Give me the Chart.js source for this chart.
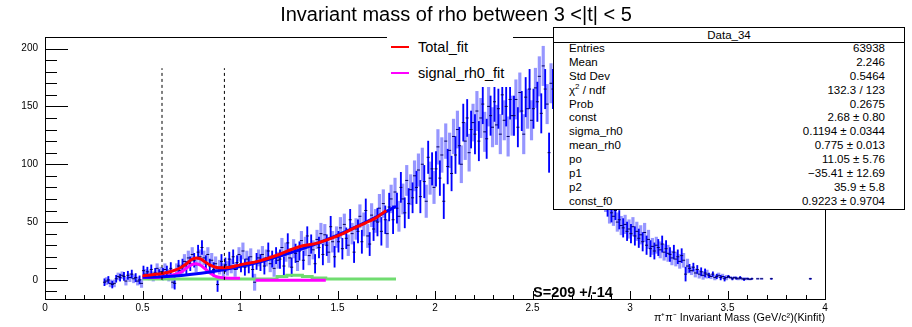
<!DOCTYPE html>
<html>
<head>
<meta charset="utf-8">
<script src="https://cdn.jsdelivr.net/npm/chart.js@4.4.0/dist/chart.umd.min.js"></script>
<style>
body { margin:0; background:#fff; font-family:"Liberation Sans", Arial, sans-serif; }
#wrap { position:relative; width:912px; height:327px; overflow:hidden; }
#c { position:absolute; left:0; top:0; }
.stats { position:absolute; left:553px; top:27px; width:350px; height:181px; border:1px solid #000; background:#fff; font-size:11.5px; color:#000; }
.stats .head { height:14px; line-height:14px; text-align:center; border-bottom:1px solid #000; }
.stats .rows { position:absolute; left:0; right:0; top:14px; }
.stats .row { height:13.9px; line-height:13.9px; position:relative; }
.stats .row .k { position:absolute; left:15px; }
.stats .row .v { position:absolute; right:19px; }
.stats sup { font-size:8px; line-height:0; }
.leg { position:absolute; left:387px; top:31px; width:126px; height:56px; background:#fff; font-size:14.5px; }
.leg .it { position:absolute; left:0; height:18px; line-height:18px; }
.leg .sw { position:absolute; left:4px; top:8px; width:18px; height:2px; }
.leg .tx { position:absolute; left:31px; white-space:nowrap; }
.sig { position:absolute; left:533px; top:284px; font-size:14.5px; font-weight:bold; }
</style>
</head>
<body>
<div id="wrap">
  <canvas id="c" width="912" height="327"></canvas>
  <div class="leg">
    <div class="it" style="top:7px"><div class="sw" style="background:#ff0000"></div><span class="tx">Total_fit</span></div>
    <div class="it" style="top:33px"><div class="sw" style="background:#ff00ff"></div><span class="tx">signal_rh0_fit</span></div>
  </div>
  <div class="stats">
    <div class="head">Data_34</div>
    <div class="rows" id="statRows"></div>
  </div>
  <div class="sig">S=209 +/-14</div>
</div>
<script>
// histogram: 0.01 GeV bins starting at 0.30
const binLow = 0.30;
const binWidth = 0.01;
const counts = [
  -2, -1, 0, -3, -4, -3, 1, 3, 2, 4,            // 0.30
  3, -1, 4, 2, 5, 1, 2, -1, 0, -3,              // 0.40
  8, 5, 7, 4, 9, 3, 6, 10, 5, 7,                // 0.50
  5, 9, 7, 4, 10, -2, -3, 9, 12, 8,             // 0.60
  12, 16, 10, 19, 14, 22, 17, 13, 24, 20,       // 0.70
  28, 19, 15, 22, 12, 17, 9, 14, -4, 11,        // 0.80
  16, 8, 13, 10, 18, 12, 20, 9, 15, 22,         // 0.90
  14, 25, 11, 18, 13, 20, 9, -2, 16, 19,        // 1.00
  15, 22, 12, 19, 25, 14, 18, 10, 21, 17,       // 1.10
  18, 28, 12, 24, 32, 19, 11, 27, 23, 16,       // 1.20
  25, 34, 17, 29, 38, 21, 31, 26, 14, 35,       // 1.30
  28, 40, 22, 39, 30, 24, 46, 33, 20, 37,       // 1.40
  33, 45, 27, 48, 36, 30, 52, 40, 24, 44,       // 1.50
  42, 55, 33, 48, 60, 38, 31, 56, 44, 51,       // 1.60
  50, 62, 42, 66, 52, 40, 63, 70, 52, 76,       // 1.70
  62, 55, 80, 70, 58, 86, 66, 78, 71, 90,       // 1.80
  80, 95, 72, 100, 85, 68, 106, 88, 96, 80,     // 1.90
  96, 115, 88, 108, 68, 120, 98, 112, 92, 124,  // 2.00
  108, 130, 116, 100, 136, 120, 140, 110, 130, 136, // 2.10
  126, 146, 120, 140, 152, 128, 122, 150, 142, 132, // 2.20
  154, 134, 148, 126, 160, 138, 150, 124, 156, 142, // 2.30
  142, 156, 132, 162, 146, 126, 158, 148, 165, 138, // 2.40
  148, 166, 154, 176, 144, 185, 165, 152, 110, 170, // 2.50
  165, 160, 170, 158, 168, 162, 155, 166, 160, 152, // 2.60
  158, 150, 145, 152, 140, 135, 142, 128, 132, 120, // 2.70
  118, 110, 105, 98, 92, 85, 80, 74, 70, 64,   // 2.80
  58, 55, 60, 50, 52, 47, 45, 48, 42, 44,       // 2.90
  40, 46, 38, 42, 36, 39, 33, 41, 30, 35,       // 3.00
  27, 29, 25, 30, 28, 26, 31, 24, 27, 23,       // 3.10
  22, 19, 24, 18, 20, 16, 21, 17, 5, 12,        // 3.20
  10, 8, 11, 6, 9, 5, 7, 4, 6, 5,               // 3.30
  4, 3, 5, 2, 3, 4, 2, 3, 1, 2,                 // 3.40
  3, 2, 1, 2, 1.5, 1, 2, 1, 0.5, 1,             // 3.50
  1, 0.5, 1, null, null, 1, null, 1, null, null, // 3.60
  null, null, 1, null, null, null, null, null, null, null, // 3.70
  null, null, null, null, null, null, null, null, null, null, // 3.80
  null, null, 1                                 // 3.90
];
// error half-size per 0.1 GeV band (0.3 ... 3.9)
const errBand = [3, 3.5, 4, 5, 6, 6, 6, 7, 7, 8, 8, 9, 9, 10, 12, 13, 14, 15, 16, 17, 17, 17, 17, 17, 16, 15, 8, 8, 7, 6, 3.5, 2, 1, 0.6, 0.5, 0.5, 0.5];

// fit curves
const totalFitX = [0.5, 0.55, 0.6, 0.65, 0.7, 0.725, 0.75, 0.775, 0.8, 0.825, 0.85, 0.875, 0.9, 0.95, 1.0, 1.1, 1.2, 1.3, 1.4, 1.5, 1.6, 1.7, 1.75];
const totalFit = [3.5, 4.5, 5.5, 7.5, 11, 14, 17.5, 19, 18, 15, 12.5, 11, 10.5, 11, 13, 16.5, 22, 28.5, 32, 38, 46, 54, 60];
const bgFitX = [0.5, 0.6, 0.7, 0.8, 0.9, 1.0, 1.1, 1.2, 1.3, 1.4, 1.5, 1.6, 1.7, 1.8];
const bgFit = [2.3, 2.7, 3.9, 5.7, 8.3, 11.5, 15.5, 20.3, 25.7, 31.8, 38.7, 46.3, 54.6, 63.6];
const signalX = [0.5, 0.55, 0.6, 0.65, 0.7, 0.725, 0.75, 0.775, 0.8, 0.825, 0.85, 0.875, 0.9, 0.95, 1.0];
const signal = [2, 2, 2.5, 4, 7, 10, 13, 14, 12.5, 9, 5.5, 3, 2, 1.5, 1.5];
const signal2X = [1.08, 1.44];
const signal2 = [-0.2, -0.2];
const f0X = [0.5, 1.19, 1.19, 1.24, 1.24, 1.32, 1.32, 1.37, 1.37, 1.44, 1.44, 1.8];
const f0 = [0.8, 0.8, 2.9, 2.9, 4, 4, 2.9, 2.9, 1.7, 1.7, 0.8, 0.8];
const cutLines = [0.6, 0.92];
const cutTop = 183;

const xTickLabels = [0, 0.5, 1, 1.5, 2, 2.5, 3, 3.5, 4];
const yTickLabels = [0, 50, 100, 150, 200];

const statNames = ['Entries', 'Mean', 'Std Dev', 'χ<sup>2</sup> / ndf', 'Prob', 'const', 'sigma_rh0', 'mean_rh0', 'po', 'p1', 'p2', 'const_f0'];
const statValues = ['63938', '2.246', '0.5464', '132.3 / 123', '0.2675', '2.68 ± 0.80', '0.1194 ± 0.0344', '0.775 ± 0.013', '11.05 ± 5.76', '−35.41 ± 12.69', '35.9 ± 5.8', '0.9223 ± 0.9704'];

let filas = '';
statNames.forEach((n, i) => {
  filas += `<div class="row"><span class="k">${n}</span><span class="v">${statValues[i]}</span></div>`;
});
document.getElementById('statRows').innerHTML = filas;

const zip = (xs, ys) => xs.map((x, i) => ({x: x, y: ys[i]}));

// two overlaid drawings of the histogram: light error boxes and dark error bars
const boxes = [];
const bars = [];
const marks = [];
counts.forEach((v, i) => {
  if (v === null) return;
  const x = binLow + (i + 0.5) * binWidth;
  const e = errBand[Math.floor(i / 10)];
  if (i % 2 === 0) bars.push({x: x, y: [v - e, v + e]});
  else boxes.push({x: x, y: [v - e, v + e]});
  marks.push({x: x, y: v});
});

const FONT = '"Liberation Sans", Arial, sans-serif';

const rootAxes = {
  id: 'rootAxes',
  afterDraw(chart) {
    const {ctx, chartArea: a, scales: {x, y}} = chart;
    ctx.save();
    ctx.strokeStyle = '#000';
    ctx.lineWidth = 1;
    ctx.strokeRect(a.left + 0.5, a.top + 0.5, a.right - a.left, a.bottom - a.top);
    ctx.beginPath();
    for (let k = -1; k <= 21; k++) {
      const py = Math.round(y.getPixelForValue(k * 10)) + 0.5;
      const len = k % 5 === 0 ? 23 : 12;
      ctx.moveTo(a.left, py);
      ctx.lineTo(a.left + len, py);
    }
    for (let k = 0; k <= 40; k++) {
      const px = Math.round(x.getPixelForValue(k / 10)) + 0.5;
      const len = k % 5 === 0 ? 8 : 4;
      ctx.moveTo(px, a.bottom);
      ctx.lineTo(px, a.bottom - len);
    }
    ctx.stroke();
    ctx.restore();
  }
};

const lineDs = (data, color, order) => ({
  type: 'line', data: data, borderColor: color, borderWidth: 3, pointRadius: 0,
  fill: false, cubicInterpolationMode: 'monotone', order: order
});

const datasets = [
  ...cutLines.map(cx => ({
    type: 'line', data: [{x: cx, y: 0}, {x: cx, y: cutTop}], borderColor: '#000',
    borderWidth: 1, borderDash: [3, 3], pointRadius: 0, order: 0
  })),
  lineDs(zip(totalFitX, totalFit), '#ff0000', 1),
  lineDs(zip(bgFitX, bgFit), '#0000ff', 2),
  lineDs(zip(signalX, signal), '#ff00ff', 3),
  lineDs(zip(signal2X, signal2), '#ff00ff', 4),
  {...lineDs(zip(f0X, f0), '#70dc70', 5), cubicInterpolationMode: 'default', tension: 0},
  {type: 'scatter', data: marks, pointStyle: 'line', pointRadius: 1.5, borderColor: '#000060', borderWidth: 1, order: 6},
  {type: 'bar', data: bars, backgroundColor: '#0000ff', barThickness: 1.2, grouped: false, order: 7},
  {type: 'bar', data: boxes, backgroundColor: 'rgba(80,80,255,0.6)', barThickness: 2.5, grouped: false, order: 8}
];

new Chart(document.getElementById('c'), {
  type: 'bar',
  data: {datasets: datasets},
  plugins: [rootAxes],
  options: {
    responsive: false,
    animation: false,
    devicePixelRatio: 1,
    layout: {padding: 0},
    plugins: {
      legend: {display: false},
      tooltip: {enabled: false},
      title: {
        display: true,
        text: 'Invariant mass of rho between 3 <|t| < 5',
        color: '#000',
        font: {family: FONT, size: 20, weight: 'normal'},
        padding: {top: 3, bottom: 10}
      }
    },
    scales: {
      x: {
        type: 'linear', min: 0, max: 4, offset: false,
        grid: {display: false, drawTicks: false}, border: {display: false},
        afterBuildTicks: s => { s.ticks = xTickLabels.map(v => ({value: v})); },
        afterFit: s => { s.height = 28; },
        ticks: {color: '#000', padding: 3, maxRotation: 0, autoSkip: false,
          font: {family: FONT, size: 10}, callback: v => String(v)},
        title: {display: true, text: 'π⁺π⁻ Invariant Mass (GeV/c²)(Kinfit)', align: 'end',
          color: '#000', font: {family: FONT, size: 10.8}, padding: {top: 0, bottom: 2}}
      },
      y: {
        type: 'linear', min: -16.5, max: 210,
        grid: {display: false, drawTicks: false}, border: {display: false},
        afterBuildTicks: s => { s.ticks = yTickLabels.map(v => ({value: v})); },
        afterFit: s => { s.width = 45; },
        ticks: {color: '#000', padding: 7, font: {family: FONT, size: 10}, callback: v => String(v)}
      },
      yr: {
        type: 'linear', position: 'right', min: 0, max: 1,
        grid: {display: false, drawTicks: false}, border: {display: false},
        ticks: {display: false},
        afterFit: s => { s.width = 87; }
      }
    }
  }
});
</script>
</body>
</html>
